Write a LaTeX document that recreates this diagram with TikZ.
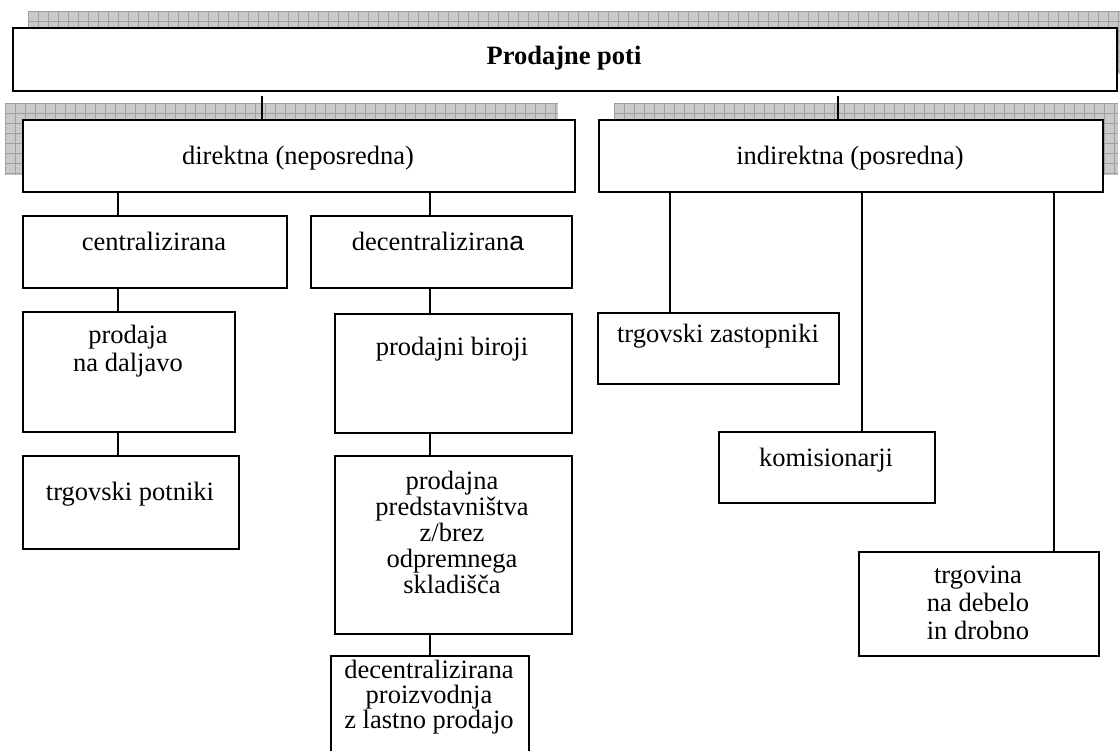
\documentclass[tikz,border=0pt]{standalone}
\usepackage{fontspec}
\setmainfont{Liberation Serif}
\setsansfont{Liberation Sans}
% box given by name and its corners (x0,y0) (x1,y1)
\newcommand\chartbox[5]{%
  \node[box, minimum width={#4-#2}, minimum height={#5-#3}] (#1) at (#2,#3) {};}
% hatched grey shadow behind a box
\newcommand\hatchshadow[4]{%
  \fill[shadowfill] (#1,#2) rectangle (#3,#4);
  \begin{scope}
    \clip (#1,#2) rectangle (#3,#4);
    \draw[shadowgrid, shift={(#1,#2)}, step=10pt] (0,0) grid ({#3-#1},{#4-#2});
  \end{scope}}
\begin{document}
\begin{tikzpicture}[x=1pt,y=-1pt,
  box/.style={draw=black, line width=2pt, fill=white, inner sep=0pt, anchor=north west},
  lbl/.style={anchor=base, align=center, inner sep=0pt, font=\fontsize{26.5}{28}\selectfont},
  conn/.style={draw=black, line width=2pt},
  shadowfill/.style={fill=gray!42},
  shadowgrid/.style={draw=gray!75, line width=0.6pt}]
\useasboundingbox (0,0) rectangle (1120,751);

% shadows
\hatchshadow{28}{11}{1132}{74}
\hatchshadow{5}{103}{558}{175}
\hatchshadow{614}{103}{1118}{175}

% boxes
\chartbox{top}{12}{27}{1116}{90}
\chartbox{dir}{22}{119}{574}{191}
\chartbox{ind}{598}{119}{1102}{191}
\chartbox{cent}{22}{215}{286}{287}
\chartbox{dec}{310}{215}{571}{287}
\chartbox{prod}{22}{311}{234}{431}
\chartbox{potn}{22}{455}{238}{548}
\chartbox{biro}{334}{313}{571}{432}
\chartbox{pred}{334}{455}{571}{633}
\chartbox{last}{330}{655}{528}{770}
\chartbox{zast}{597}{312}{838}{383}
\chartbox{kom}{718}{431}{934}{502}
\chartbox{trg}{858}{551}{1098}{655}

% labels (base anchor = baseline of the last line)
\node[lbl, font=\fontsize{26.5}{28}\selectfont\bfseries] (topT) at (564,65) {Prodajne poti};
\node[lbl] (dirT) at (298,165) {direktna (neposredna)};
\node[lbl] (indT) at (850,165) {indirektna (posredna)};
\node[lbl] (centT) at (154,251) {centralizirana};
\node[lbl] (decT) at (438,251) {decentraliziran{\sffamily a}};
\node[lbl] (prodT) at (128,372) {prodaja\\na daljavo};
\node[lbl] (potnT) at (130,500) {trgovski potniki};
\node[lbl] (biroT) at (452,356) {prodajni biroji};
\node[lbl, font=\fontsize{26.5}{26}\selectfont] (predT) at (452,593) {prodajna\\predstavništva\\z/brez\\odpremnega\\skladišča};
\node[lbl, font=\fontsize{26.5}{25}\selectfont] (lastT) at (429,728) {decentralizirana\\proizvodnja\\z lastno prodajo};
\node[lbl] (zastT) at (718,343) {trgovski zastopniki};
\node[lbl] (komT) at (826,466) {komisionarji};
\node[lbl] (trgT) at (978,639) {trgovina\\na debelo\\in drobno};

% connectors
\coordinate (kA) at (262,96);
\coordinate (kB) at (838,96);
\coordinate (kL) at (118,0);
\coordinate (kM) at (430,0);
\coordinate (kR1) at (670,0);
\coordinate (kR2) at (862,0);
\coordinate (kR3) at (1054,0);
\draw[conn] (kA) -- (kA |- dir.north);
\draw[conn] (kB) -- (kB |- ind.north);
\draw[conn] (dir.south -| kL) -- (cent.north -| kL);
\draw[conn] (dir.south -| kM) -- (dec.north -| kM);
\draw[conn] (cent.south -| kL) -- (prod.north -| kL);
\draw[conn] (prod.south -| kL) -- (potn.north -| kL);
\draw[conn] (dec.south -| kM) -- (biro.north -| kM);
\draw[conn] (biro.south -| kM) -- (pred.north -| kM);
\draw[conn] (pred.south -| kM) -- (last.north -| kM);
\draw[conn] (ind.south -| kR1) -- (zast.north -| kR1);
\draw[conn] (ind.south -| kR2) -- (kom.north -| kR2);
\draw[conn] (ind.south -| kR3) -- (trg.north -| kR3);
\end{tikzpicture}
\end{document}
